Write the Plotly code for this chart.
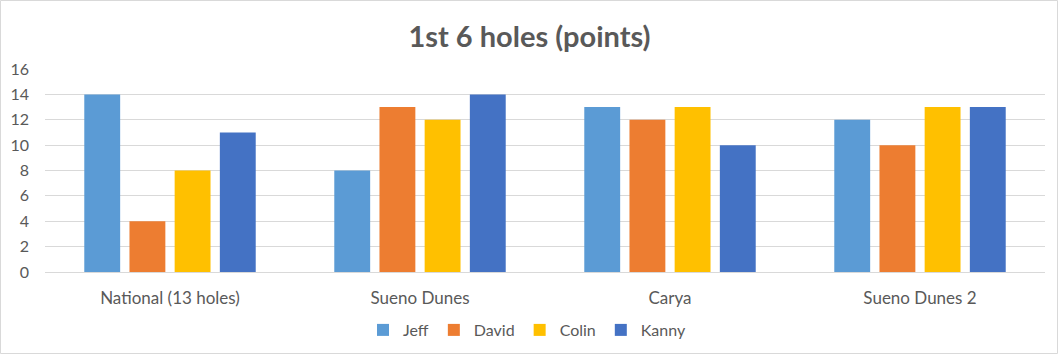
import plotly.graph_objects as go

categories = ["National (13 holes)", "Sueno Dunes", "Carya", "Sueno Dunes 2"]
jeff = [14, 8, 13, 12]
david = [4, 13, 12, 10]
colin = [8, 12, 13, 13]
kanny = [11, 14, 10, 13]
series = [("Jeff", jeff, "#5B9BD5"), ("David", david, "#ED7D31"),
          ("Colin", colin, "#FFC000"), ("Kanny", kanny, "#4472C4")]

W, H = 1059, 355
L, R, T, B = 45, 14, 69, 83
pw, ph = W - L - R, H - T - B

fig = go.Figure()
for name, vals, col in series:
    fig.add_trace(go.Bar(x=categories, y=vals, name=name, marker_color=col, marker_line_width=0))

font = "Lato, Calibri, Carlito, sans-serif"
fig.update_layout(
    width=W, height=H, margin=dict(l=L, r=R, t=T, b=B, autoexpand=False),
    paper_bgcolor="white", plot_bgcolor="white",
    barmode="group", bargap=0.277, bargroupgap=0.206,
    title=dict(text="<b>1st 6 holes (points)</b>", x=0.5, xanchor="center",
               y=1 - 37 / H, yanchor="middle",
               font=dict(family=font, size=29, color="#595959")),
    font=dict(family=font, size=16, color="#595959"),
    legend=dict(orientation="h", x=0.482, xanchor="center", y=-(330 - 272) / ph, yanchor="middle",
                font=dict(size=16, color="#595959"), itemwidth=30, traceorder="normal"),
    xaxis=dict(showline=True, linecolor="#D9D9D9", linewidth=1, ticks="", automargin=False,
               ticklabelstandoff=11, tickfont=dict(size=17, color="#595959")),
    yaxis=dict(range=[0, 16], dtick=2, showgrid=True, gridcolor="#D9D9D9", gridwidth=1,
               zeroline=False, showline=False, ticks="", ticklabelstandoff=15, automargin=False,
               tickfont=dict(size=16, color="#595959")),
    shapes=[dict(type="rect", xref="paper", yref="paper",
                 x0=-(L - 0.5) / pw, x1=1 + (R - 1.5) / pw,
                 y0=-(B - 1.5) / ph, y1=1 + (T - 0.5) / ph,
                 line=dict(color="#D9D9D9", width=1), fillcolor="rgba(0,0,0,0)", layer="below")],
)
fig.write_html("out.html")
